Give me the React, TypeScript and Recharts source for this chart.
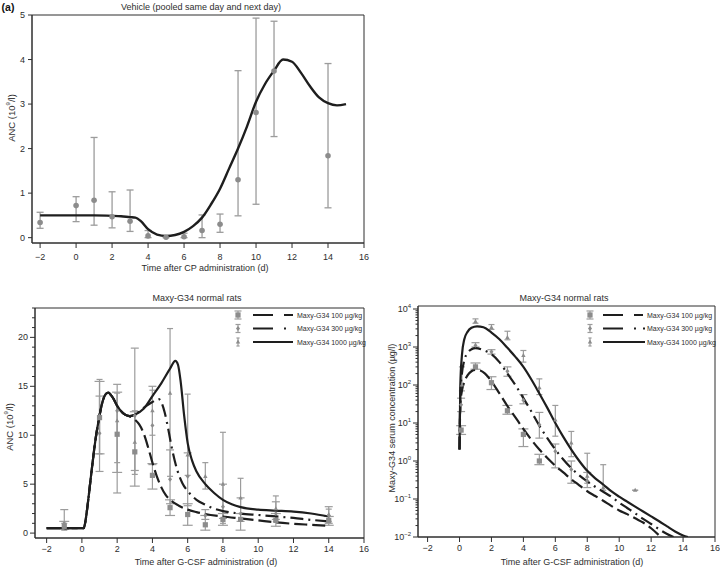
import React from 'react';
import { ComposedChart, Line, Scatter, ErrorBar, XAxis, YAxis, ReferenceArea } from 'recharts';

const FONT = '"Liberation Sans", Arial, Helvetica, sans-serif';
const INK = '#1e1e1e';
const AXIS = '#2e2e2e';
const MARK = '#8c8c8c';
const WHISKER = '#9c9c9c';

// days after dosing, shared by all three panels
const DAY_TICKS = [-2, 0, 2, 4, 6, 8, 10, 12, 14, 16];

// (a) vehicle: model curve [day, ANC] and observations [day, mean, low, high]
const VEH_CURVE = [
  [-2, 0.5], [-1, 0.5], [0, 0.5], [1, 0.5], [2, 0.49], [2.5, 0.48], [3, 0.46], [3.3, 0.45],
  [3.6, 0.37], [4, 0.19], [4.5, 0.07], [5, 0.04], [5.5, 0.06], [6, 0.13], [6.5, 0.26],
  [7, 0.45], [7.5, 0.75], [8, 1.1], [8.5, 1.55], [9, 2.0], [9.5, 2.5], [10, 3.05],
  [10.5, 3.45], [11, 3.75], [11.5, 4.0], [12, 3.95], [12.5, 3.7], [13, 3.4], [13.5, 3.15],
  [14, 3.02], [14.5, 2.97], [15, 3.0],
];
const VEH_OBS = [
  [-2, 0.34, 0.21, 0.57], [0, 0.72, 0.36, 0.92], [1, 0.84, 0.28, 2.25], [2, 0.47, 0.22, 1.03],
  [3, 0.37, 0.14, 1.07], [4, 0.04, 0, 0.16], [5, 0.01, 0, 0.04], [6, 0.02, 0, 0.1],
  [7, 0.16, 0, 0.51], [8, 0.3, 0.12, 0.53], [9, 1.3, 0.49, 3.75], [10, 2.81, 0.75, 4.93],
  [11, 3.74, 2.27, 4.86], [14, 1.84, 0.67, 3.91],
];
const VEH_Y_TICKS = [0, 1, 2, 3, 4, 5];

// (b) ANC after Maxy-G34 — common rise, then one tail per dose
const ANC_RISE = [
  [-2, 0.5], [-1, 0.5], [0, 0.5], [0.1, 0.5], [0.2, 1.2], [0.3, 2.5], [0.4, 4.0], [0.5, 5.6],
  [0.6, 7.1], [0.7, 8.6], [0.8, 9.9], [0.9, 11.0], [1.0, 12.0], [1.1, 12.9], [1.2, 13.6],
  [1.35, 14.2], [1.5, 14.35], [1.65, 14.1], [1.8, 13.7], [2.0, 13.0], [2.2, 12.5],
  [2.45, 12.1], [2.7, 11.95],
];
const ANC_100_TAIL = [
  [3.0, 11.6], [3.25, 11.1], [3.5, 10.2], [3.75, 8.8], [4.0, 7.2], [4.25, 5.8], [4.5, 4.7],
  [4.75, 3.9], [5.0, 3.4], [5.5, 2.8], [6.0, 2.4], [6.5, 2.15], [7.0, 1.95], [8, 1.7],
  [9, 1.5], [10, 1.3], [11, 1.1], [12, 0.95], [13, 0.85], [14, 0.75],
];
const ANC_300_TAIL = [
  [3.0, 12.1], [3.5, 12.8], [4.0, 13.4], [4.35, 13.7], [4.5, 13.4], [4.7, 12.3], [4.9, 10.6],
  [5.1, 8.7], [5.4, 6.5], [5.7, 5.1], [6.0, 4.3], [6.5, 3.4], [7.0, 2.9], [7.5, 2.5],
  [8, 2.25], [9, 2.0], [10, 1.85], [11, 1.7], [12, 1.55], [13, 1.35], [14, 1.2],
];
const ANC_1000_TAIL = [
  [3.0, 12.1], [3.5, 12.7], [4.0, 14.0], [4.5, 15.3], [5.0, 16.8], [5.3, 17.6], [5.45, 17.2],
  [5.6, 15.5], [5.8, 12.0], [6.0, 9.2], [6.25, 7.4], [6.5, 6.3], [7.0, 5.0], [7.5, 4.1],
  [8, 3.4], [8.5, 2.95], [9, 2.65], [10, 2.4], [11, 2.3], [12, 2.2], [13, 2.0], [14, 1.7],
];
const ANC_OBS_100 = [
  [-1, 0.7, 0.4, 1.2], [1, 11.8, 8.1, 15.5], [2, 10.1, 6.2, 14.4], [3, 8.3, 4.8, 12.4],
  [4, 5.9, 4.5, 7.1], [5, 2.6, 1.8, 3.4], [6, 1.9, 0.8, 3.0], [7, 0.85, 0.3, 1.8],
  [8, 1.4, 0.8, 2.0], [9, 1.4, 0.3, 2.0], [11, 1.3, 0.7, 2.0], [14, 1.3, 0.8, 1.7],
];
const ANC_OBS_300 = [
  [-1, 1.0, 0.5, 2.4], [1, 10.2, 6.3, 14.0], [2, 12.5, 4.1, 15.2], [3, 12.0, 6.4, 18.9],
  [4, 11.0, 7.0, 15.0], [5, 5.5, 3.0, 8.5], [6, 5.8, 2.8, 8.2], [7, 1.8, 1.4, 2.4],
  [8, 2.7, 1.5, 5.0], [9, 2.0, 1.2, 3.6], [11, 2.0, 1.4, 3.2], [14, 1.8, 1.0, 2.7],
];
const ANC_OBS_1000 = [
  [-1, 0.6, 0.3, 1.0], [1, 12.0, 8.1, 15.7], [2, 11.5, 7.2, 14.3], [3, 9.3, 6.0, 12.5],
  [4, 12.5, 10.0, 14.6], [5, 14.3, 5.8, 20.9], [6, 8.0, 5.9, 14.2], [7, 5.8, 4.5, 7.2],
  [8, 5.0, 1.0, 10.3], [9, 3.6, 2.0, 5.6], [11, 2.5, 1.2, 3.8], [14, 1.9, 1.2, 2.45],
];
const ANC_Y_TICKS = [
  0, 1, 2, 3, 4, 5, 6, 7, 8, 9, 10, 11, 12, 13, 14, 15, 16, 17, 18, 19, 20, 21, 22, 23,
];

// (c) serum concentration (µg/l)
const PK_100 = [
  [0, 2], [0.05, 30], [0.15, 70], [0.3, 120], [0.5, 180], [0.75, 230], [1.0, 250], [1.3, 240],
  [1.6, 200], [2.0, 125], [2.5, 60], [3.0, 28], [3.5, 14], [4.0, 7], [4.5, 3.6], [5.0, 2.0],
  [5.5, 1.2], [6.0, 0.75], [6.5, 0.5], [7.0, 0.33], [7.5, 0.23], [8.0, 0.16], [8.5, 0.12],
  [9.0, 0.09], [9.5, 0.066], [10.0, 0.05], [10.5, 0.04], [11.0, 0.031], [11.5, 0.024],
  [12.0, 0.017], [12.6, 0.01],
];
const PK_300 = [
  [0, 2], [0.05, 60], [0.15, 200], [0.3, 450], [0.5, 700], [0.75, 870], [1.0, 940], [1.5, 830],
  [2.0, 650], [2.5, 400], [3.0, 200], [3.5, 100], [4.0, 45], [4.5, 20], [5.0, 8.5], [5.5, 4],
  [6.0, 2.0], [6.5, 1.1], [7.0, 0.65], [7.5, 0.42], [8.0, 0.29], [8.5, 0.21], [9.0, 0.155],
  [9.5, 0.115], [10.0, 0.08], [10.5, 0.058], [11.0, 0.042], [11.5, 0.03], [12.0, 0.022],
  [12.5, 0.016], [13.0, 0.012], [13.4, 0.01],
];
const PK_1000 = [
  [0, 2], [0.05, 100], [0.15, 600], [0.3, 1600], [0.5, 2500], [0.75, 3200], [1.1, 3500],
  [1.5, 3300], [2.0, 2400], [2.5, 1600], [3.0, 950], [3.5, 550], [4.0, 300], [4.5, 140],
  [5.0, 60], [5.5, 25], [6.0, 10], [6.5, 4.3], [7.0, 2.0], [7.5, 1.0], [8.0, 0.55],
  [8.5, 0.35], [9.0, 0.24], [9.5, 0.16], [10.0, 0.115], [10.5, 0.085], [11.0, 0.063],
  [11.5, 0.047], [12.0, 0.035], [12.5, 0.026], [13.0, 0.019], [13.5, 0.014], [14.0, 0.011],
  [14.3, 0.01],
];
const PK_OBS_100 = [
  [0.1, 6.5, 5, 8.5], [1, 300, 260, 380], [2, 115, 76, 165], [3, 21, 17, 29], [4, 5, 2.4, 7],
  [5, 1.0, 0.8, 1.5],
];
const PK_OBS_300 = [
  [0.1, 30, 20, 45], [1, 1100, 1000, 1300], [2, 750, 650, 850], [3, 230, 170, 300],
  [4, 40, 32, 56], [5, 9, 4, 19], [6, 1.8, 0.66, 2.8], [7, 0.6, 0.26, 1.0], [8, 0.3, 0.2, 0.5],
];
const PK_OBS_1000 = [
  [0.15, 100, 70, 300], [1, 4700, 4200, 5500], [2, 3300, 2900, 3900], [3, 1800, 1550, 2600],
  [4, 600, 400, 810], [5, 85, 56, 145], [6, 12, 4.5, 29], [7, 3, 1.3, 6], [8, 0.4, 0.26, 1.6],
  [9, 0.2, 0.17, 0.8], [11, 0.17, 0.17, 0.17],
];
const PK_DECADES = [0.01, 0.1, 1, 10, 100, 1000, 10000];
const PK_MINOR_STEPS = [2, 3, 4, 5, 6, 7, 8, 9];

const DOSE_LABELS = ['Maxy-G34 100 µg/kg', 'Maxy-G34 300 µg/kg', 'Maxy-G34 1000 µg/kg'];

const toLine = (rows: number[][]) => rows.map(([x, y]) => ({ x, y }));
const toObs = (rows: number[][]) => rows.map(([x, y, lo, hi]) => ({ x, y, err: [y - lo, hi - y] }));
const dayLabel = (v: number) => (v < 0 ? `\u2212${-v}` : String(v));

const square = (cx: number, cy: number) => (
  <rect x={cx - 2.6} y={cy - 2.6} width={5.2} height={5.2} fill={MARK} />
);
const diamond = (cx: number, cy: number) => (
  <path d={`M${cx},${cy - 2.4}L${cx + 2},${cy}L${cx},${cy + 2.4}L${cx - 2},${cy}Z`} fill={MARK} />
);
const triangle = (cx: number, cy: number) => (
  <path d={`M${cx},${cy - 2.4}L${cx + 2.2},${cy + 1.6}L${cx - 2.2},${cy + 1.6}Z`} fill={MARK} />
);
const round = (cx: number, cy: number) => <circle cx={cx} cy={cy} r={2.8} fill={MARK} />;

const DOSE_STYLE = [
  { mark: square, cap: 5, legendCap: 3.5, dash: '13 5', legendDash: '20 11 9' },
  { mark: diamond, cap: 4, legendCap: 2.5, dash: '13 5 2 5', legendDash: '20 11 2 7' },
  { mark: triangle, cap: 3, legendCap: 1.6, dash: undefined, legendDash: undefined },
];

const tickText = { fontSize: 9, fill: AXIS, fontFamily: FONT };

const LinTick = (p: any) => {
  const v = p.payload.value;
  const axisX = p.x + 7;
  const major = v % 5 === 0;
  return (
    <g>
      <line x1={axisX - (major ? 5 : 3)} x2={axisX} y1={p.y} y2={p.y} stroke={AXIS} />
      {major && (
        <text x={p.x} y={p.y} dy={3} textAnchor="end" {...tickText}>{v}</text>
      )}
    </g>
  );
};

const LogTick = (p: any) => {
  const v = p.payload.value;
  const e = Math.round(Math.log10(v));
  const major = Math.abs(v - 10 ** e) < 1e-6 * 10 ** e;
  const axisX = p.x + 7;
  return (
    <g>
      <line x1={axisX - (major ? 5 : 2.5)} x2={axisX} y1={p.y} y2={p.y} stroke={AXIS} />
      {major && (
        <text x={p.x} y={p.y} dy={3} textAnchor="end" {...tickText}>
          10<tspan dy={-4} fontSize={6}>{e < 0 ? `\u2212${-e}` : e}</tspan>
        </text>
      )}
    </g>
  );
};

const pos = (left: number, top: number, rotate = false): React.CSSProperties => ({
  position: 'absolute',
  left,
  top,
  transform: `translate(-50%, -50%)${rotate ? ' rotate(-90deg)' : ''}`,
  whiteSpace: 'nowrap',
  fontFamily: FONT,
  fontSize: 9,
  color: AXIS,
});

function DoseLegend({ left, lineFrom, lineTo, textX }: any) {
  return (
    <svg style={{ position: 'absolute', left, top: 308 }} width={140} height={44}>
      {DOSE_LABELS.map((label, i) => {
        const y = 7 + i * 13.5;
        const st = DOSE_STYLE[i];
        return (
          <g key={label}>
            <line x1={6} x2={6} y1={y - 4} y2={y + 4} stroke={WHISKER} strokeWidth={1.2} />
            <line x1={6 - st.legendCap} x2={6 + st.legendCap} y1={y - 4} y2={y - 4} stroke={WHISKER} strokeWidth={1.2} />
            <line x1={6 - st.legendCap} x2={6 + st.legendCap} y1={y + 4} y2={y + 4} stroke={WHISKER} strokeWidth={1.2} />
            {st.mark(6, y)}
            <line x1={lineFrom} x2={lineTo} y1={y} y2={y} stroke={INK} strokeWidth={2.2} strokeDasharray={st.legendDash} />
            <text x={textX} y={y + 2.5} fontSize={7} fontFamily={FONT} fill={AXIS}>{label}</text>
          </g>
        );
      })}
    </svg>
  );
}

const VEH_X = [-2.45, 16];
const VEH_Y = [-0.12, 5];

function VehicleChart() {
  return (
    <ComposedChart width={372} height={262} margin={{ top: 15, right: 8, bottom: 0, left: 0 }}>
      <XAxis dataKey="x" type="number" domain={VEH_X} allowDataOverflow ticks={DAY_TICKS} interval={0}
        tickFormatter={dayLabel} tick={tickText} tickSize={5} tickMargin={6} stroke={AXIS} height={19} />
      <YAxis dataKey="y" type="number" domain={VEH_Y} allowDataOverflow ticks={VEH_Y_TICKS} interval={0}
        tick={tickText} tickSize={4} tickMargin={3} stroke={AXIS} width={32} />
      <ReferenceArea x1={VEH_X[0]} x2={VEH_X[1]} y1={VEH_Y[0]} y2={VEH_Y[1]} fill="none" stroke={AXIS} strokeOpacity={1} ifOverflow="visible" />
      <Scatter data={toObs(VEH_OBS)} dataKey="y" shape={(p: any) => round(p.cx, p.cy)} isAnimationActive={false}>
        <ErrorBar dataKey="err" direction="y" width={3.5} stroke={WHISKER} strokeWidth={1.3} isAnimationActive={false} />
      </Scatter>
      <Line data={toLine(VEH_CURVE)} dataKey="y" type="monotone" stroke={INK} strokeWidth={2.4} dot={false} isAnimationActive={false} />
    </ComposedChart>
  );
}

const ANC_X = [-2.66, 16];
const ANC_Y = [-0.5, 23];

function AncChart() {
  const obs = [ANC_OBS_100, ANC_OBS_300, ANC_OBS_1000];
  const tails = [ANC_100_TAIL, ANC_300_TAIL, ANC_1000_TAIL];
  return (
    <ComposedChart width={372} height={262} margin={{ top: 8, right: 8, bottom: 0, left: 0 }}>
      <XAxis dataKey="x" type="number" domain={ANC_X} allowDataOverflow ticks={DAY_TICKS} interval={0}
        tickFormatter={dayLabel} tick={tickText} tickSize={5} tickMargin={3} stroke={AXIS} height={24} />
      <YAxis dataKey="y" type="number" domain={ANC_Y} allowDataOverflow ticks={ANC_Y_TICKS} interval={0}
        tick={(p: any) => <LinTick {...p} />} tickLine={false} tickSize={5} tickMargin={2} stroke={AXIS} width={35} />
      <ReferenceArea x1={ANC_X[0]} x2={ANC_X[1]} y1={ANC_Y[0]} y2={ANC_Y[1]} fill="none" stroke={AXIS} strokeOpacity={1} ifOverflow="visible" />
      {obs.map((rows, i) => (
        <Scatter key={`o${i}`} data={toObs(rows)} dataKey="y" shape={(p: any) => DOSE_STYLE[i].mark(p.cx, p.cy)} isAnimationActive={false}>
          <ErrorBar dataKey="err" direction="y" width={DOSE_STYLE[i].cap} stroke={WHISKER} strokeWidth={1.2} isAnimationActive={false} />
        </Scatter>
      ))}
      {tails.map((tail, i) => (
        <Line key={`l${i}`} data={toLine([...ANC_RISE, ...tail])} dataKey="y" type="monotone" stroke={INK} strokeWidth={2.2}
          strokeDasharray={DOSE_STYLE[i].dash} dot={false} isAnimationActive={false} />
      ))}
    </ComposedChart>
  );
}

const PK_X = [-2.6, 16];
const PK_Y = [0.01, 12000];

function PkChart() {
  const obs = [PK_OBS_100, PK_OBS_300, PK_OBS_1000];
  const curves = [PK_100, PK_300, PK_1000];
  const yTicks = PK_DECADES.flatMap((d, i) =>
    i < PK_DECADES.length - 1 ? [d, ...PK_MINOR_STEPS.map((m) => m * d)] : [d],
  );
  return (
    <ComposedChart width={348} height={262} margin={{ top: 6, right: 5, bottom: 0, left: 0 }}>
      <XAxis dataKey="x" type="number" domain={PK_X} allowDataOverflow ticks={DAY_TICKS} interval={0}
        tickFormatter={dayLabel} tick={tickText} tickSize={5} tickMargin={3} stroke={AXIS} height={25} />
      <YAxis dataKey="y" type="number" scale="log" domain={PK_Y} allowDataOverflow ticks={yTicks} interval={0}
        tick={(p: any) => <LogTick {...p} />} tickLine={false} tickSize={5} tickMargin={2} stroke={AXIS} width={46} />
      <ReferenceArea x1={PK_X[0]} x2={PK_X[1]} y1={PK_Y[0]} y2={PK_Y[1]} fill="none" stroke={AXIS} strokeOpacity={1} ifOverflow="visible" />
      {obs.map((rows, i) => (
        <Scatter key={`o${i}`} data={toObs(rows)} dataKey="y" shape={(p: any) => DOSE_STYLE[i].mark(p.cx, p.cy)} isAnimationActive={false}>
          <ErrorBar dataKey="err" direction="y" width={DOSE_STYLE[i].cap} stroke={WHISKER} strokeWidth={1.2} isAnimationActive={false} />
        </Scatter>
      ))}
      {curves.map((rows, i) => (
        <Line key={`l${i}`} data={toLine(rows)} dataKey="y" type="monotone" stroke={INK} strokeWidth={2.2}
          strokeDasharray={DOSE_STYLE[i].dash} dot={false} isAnimationActive={false} />
      ))}
    </ComposedChart>
  );
}

export default function App() {
  return (
    <div style={{ position: 'absolute', left: 0, top: 0, width: 720, height: 568, background: '#fff', overflow: 'hidden' }}>
      <div style={{ position: 'absolute', left: 0, top: 0 }}><VehicleChart /></div>
      <div style={{ position: 'absolute', left: 0, top: 300 }}><AncChart /></div>
      <div style={{ position: 'absolute', left: 372, top: 300 }}><PkChart /></div>

      <div style={{ ...pos(8, 7), fontSize: 10.5, fontWeight: 'bold', color: '#111' }}>(a)</div>
      <div style={pos(201, 7)}>Vehicle (pooled same day and next day)</div>
      <div style={{ ...pos(11, 118, true), fontSize: 9.5 }}>ANC (10<sup style={{ fontSize: 6 }}>9</sup>/l)</div>
      <div style={pos(205, 268)}>Time after CP administration (d)</div>

      <div style={pos(197, 298)}>Maxy-G34 normal rats</div>
      <div style={{ ...pos(9, 427, true), fontSize: 9.5 }}>ANC (10<sup style={{ fontSize: 6 }}>9</sup>/l)</div>
      <div style={pos(206, 562)}>Time after G-CSF administration (d)</div>
      <DoseLegend left={232} lineFrom={21} lineTo={61} textX={65} />

      <div style={pos(564, 298)}>Maxy-G34 normal rats</div>
      <div style={pos(392, 418, true)}>Maxy-G34 serum concentration (µg/l)</div>
      <div style={pos(572, 562)}>Time after G-CSF administration (d)</div>
      <DoseLegend left={584} lineFrom={19} lineTo={61} textX={63} />
    </div>
  );
}
